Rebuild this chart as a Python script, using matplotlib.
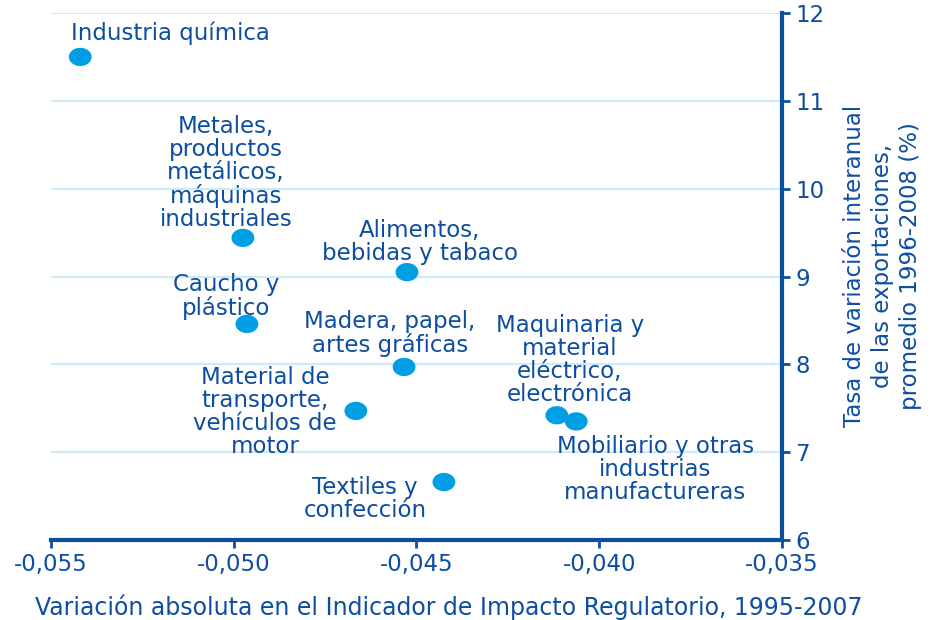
import numpy as np
import matplotlib.pyplot as plt
from matplotlib.path import Path
from matplotlib.ticker import FuncFormatter

# Data
sectors = ['Industria química',
           'Metales,\nproductos\nmetálicos,\nmáquinas\nindustriales',
           'Alimentos,\nbebidas y tabaco',
           'Caucho y\nplástico',
           'Madera, papel,\nartes gráficas',
           'Material de\ntransporte,\nvehículos de\nmotor',
           'Textiles y\nconfección',
           'Maquinaria y\nmaterial\neléctrico,\nelectrónica',
           'Mobiliario y otras\nindustrias\nmanufactureras']
regulation_change = [-0.0542, -0.04975, -0.04526, -0.04964, -0.04534,
                     -0.04666, -0.04425, -0.04116, -0.04063]
export_growth = [11.50, 9.44, 9.05, 8.46, 7.97, 7.47, 6.66, 7.42, 7.35]

# label offsets (pixels) from each dot
offsets = [(90, 24), (-17, 65), (13, 30), (-21, 27), (-14, 33),
           (-91, -1), (-79, -17), (13, 55), (79, -48)]

dark_blue = '#0d4ea0'
dot_blue = '#009fe3'

# slightly flattened dot
t = np.linspace(0, 2 * np.pi, 60)
ellipse = Path(np.column_stack([np.cos(t), 0.8 * np.sin(t)]), closed=True)

fig = plt.figure(figsize=(9.35, 6.2), dpi=100)
ax = fig.add_axes([51 / 935, 80 / 620, 731 / 935, 527 / 620])

ax.scatter(regulation_change, export_growth, s=270, marker=ellipse,
           color=dot_blue, edgecolors='none', zorder=3)

for name, x, y, (dx, dy) in zip(sectors, regulation_change, export_growth, offsets):
    ax.annotate(name, (x, y), xytext=(dx, dy), textcoords='offset pixels',
                ha='center', va='center', fontsize=16.5, color=dark_blue,
                linespacing=1.0)

ax.set_xlim(-0.055, -0.035)
ax.set_ylim(6, 12)
ax.set_xticks([-0.055, -0.050, -0.045, -0.040, -0.035])
ax.set_yticks(range(6, 13))
ax.xaxis.set_major_formatter(FuncFormatter(lambda v, p: f'{v:.3f}'.replace('.', ',')))

ax.yaxis.tick_right()
ax.yaxis.set_label_position('right')
ax.grid(axis='y', color='#cdeaf8', linewidth=1.5)
ax.set_axisbelow(True)

for side in ['top', 'left']:
    ax.spines[side].set_visible(False)
for side in ['bottom', 'right']:
    ax.spines[side].set_color(dark_blue)
    ax.spines[side].set_linewidth(3)

ax.tick_params(axis='both', colors=dark_blue, labelcolor=dark_blue,
               labelsize=16.5, width=2, length=6)

ax.set_xlabel('Variación absoluta en el Indicador de Impacto Regulatorio, 1995-2007',
              fontsize=17, color=dark_blue)
ax.xaxis.set_label_coords(0.544, -0.103)
ax.set_ylabel('Tasa de variación interanual\nde las exportaciones,\npromedio 1996-2008 (%)',
              fontsize=16.5, color=dark_blue, linespacing=1.3)
ax.yaxis.set_label_coords(1.083, 0.52)

fig.savefig('out.png')
